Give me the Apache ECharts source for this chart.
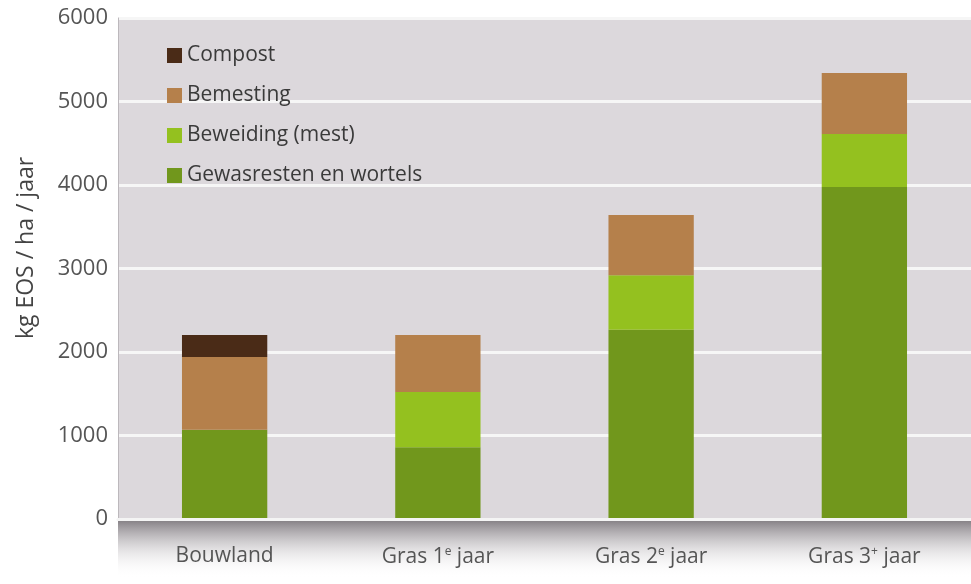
<!DOCTYPE html>
<html>
<head>
<meta charset="utf-8">
<script src="https://cdn.jsdelivr.net/npm/echarts@6/dist/echarts.min.js"></script>
<style>
html,body{margin:0;padding:0;background:#fff;}
#chart{width:971px;height:584px;}
</style>
</head>
<body>
<div id="chart"></div>
<script>
// categorieen (rich tags voor superscript)
var categories = ['Bouwland', 'Gras 1{s|e} jaar', 'Gras 2{s|e} jaar', 'Gras 3{s|+} jaar'];
// kg EOS / ha / jaar, per bron
var gewasresten = [1070, 860, 2265, 3975];
var beweiding = [0, 660, 655, 635];
var bemesting = [870, 685, 720, 730];
var compost = [265, 0, 0, 0];
var yTicks = [0, 1000, 2000, 3000, 4000, 5000, 6000];

var font = '"Open Sans", "Noto Sans", sans-serif';
var myChart = echarts.init(document.getElementById('chart'));

function bar(name, data, color) {
    return {
        name: name,
        type: 'bar',
        stack: 'eos',
        barWidth: '40%',
        itemStyle: {color: color},
        data: data
    };
}

var option = {
    backgroundColor: '#fff',
    animation: false,
    textStyle: {fontFamily: font},
    grid: {
        left: 118, right: 0, top: 18, bottom: 65,
        show: true, backgroundColor: '#dcd8dc', borderWidth: 0
    },
    graphic: [{
        // schaduw onder de plot
        type: 'rect',
        z: 0,
        shape: {x: 118, y: 520, width: 853, height: 58},
        style: {
            fill: new echarts.graphic.LinearGradient(0, 0, 0, 1, [
                {offset: 0, color: 'rgba(100,94,100,0.8)'},
                {offset: 0.5, color: 'rgba(170,165,170,0.35)'},
                {offset: 1, color: 'rgba(255,255,255,0)'}
            ])
        }
    }, {
        // as-titel
        type: 'text',
        x: 26,
        y: 248,
        rotation: Math.PI / 2,
        style: {
            text: 'kg EOS / ha / jaar',
            fill: '#444',
            font: '23px "Open Sans", sans-serif',
            align: 'center',
            verticalAlign: 'middle'
        }
    }],
    legend: {
        orient: 'vertical',
        left: 162,
        top: 40,
        itemWidth: 15,
        itemHeight: 15,
        itemGap: 19,
        icon: 'rect',
        data: ['Compost', 'Bemesting', 'Beweiding (mest)', 'Gewasresten en wortels'],
        textStyle: {color: '#3a3a3a', fontSize: 21, fontFamily: font}
    },
    xAxis: {
        type: 'category',
        data: categories,
        z: 3,
        axisLine: {show: true, lineStyle: {color: '#f4f4f4', width: 3}},
        axisTick: {show: false},
        axisLabel: {
            margin: 27,
            color: '#555',
            fontSize: 21,
            fontFamily: font,
            rich: {
                s: {fontSize: 12, verticalAlign: 'top', color: '#555', fontFamily: font, padding: [0, 0, 10, 0]}
            }
        }
    },
    yAxis: {
        type: 'value',
        min: yTicks[0],
        max: yTicks[yTicks.length - 1],
        interval: 1000,
        axisLine: {show: true, lineStyle: {color: '#bcb8bc', width: 1}},
        axisTick: {show: false},
        axisLabel: {
            color: '#555', fontSize: 22, margin: 10, fontFamily: font,
            formatter: function (v) { return String(v); }
        },
        splitLine: {lineStyle: {color: '#f6f6f6', width: 3}}
    },
    series: [
        bar('Gewasresten en wortels', gewasresten, '#71971c'),
        bar('Beweiding (mest)', beweiding, '#94c11f'),
        bar('Bemesting', bemesting, '#b5804b'),
        bar('Compost', compost, '#4a2b17')
    ]
};

myChart.setOption(option);
</script>
</body>
</html>
